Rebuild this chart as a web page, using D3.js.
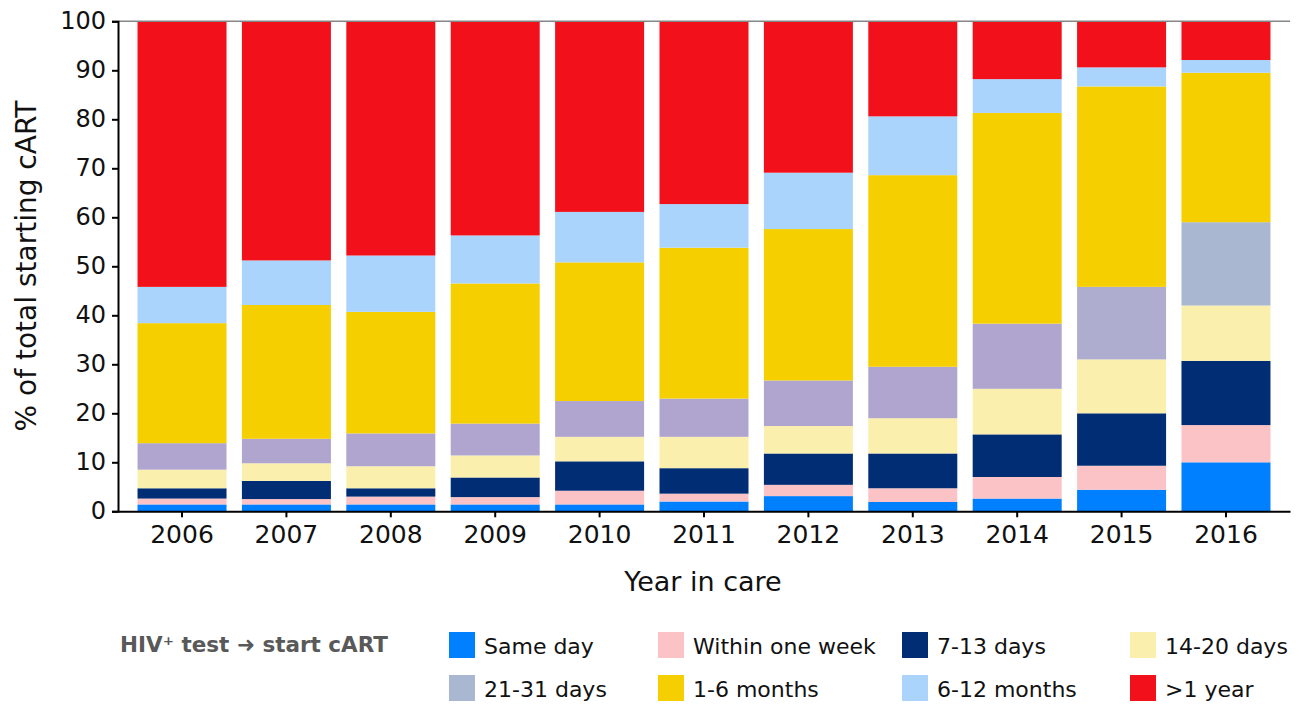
<!DOCTYPE html>
<html><head><meta charset="utf-8">
<script src="https://cdn.jsdelivr.net/npm/d3@7"></script>
<style>body{margin:0;background:#fff}svg{display:block}</style>
</head><body>
<svg id="chart" width="1299" height="704"></svg>
<script>
const years = ["2006","2007","2008","2009","2010","2011","2012","2013","2014","2015","2016"];
const seriesNames = ["Same day","Within one week","7-13 days","14-20 days","21-31 days","1-6 months","6-12 months",">1 year"];
const sameDay     = [1.4, 1.4, 1.4, 1.4, 1.4, 2.0, 3.1, 1.9, 2.6, 4.4, 10.0];
const withinWeek  = [1.2, 1.1, 1.6, 1.5, 2.8, 1.6, 2.3, 2.8, 4.4, 4.9, 7.6];
const days7to13   = [2.1, 3.7, 1.7, 4.0, 6.0, 5.2, 6.4, 7.1, 8.7, 10.7, 13.1];
const days14to20  = [3.8, 3.6, 4.5, 4.5, 5.0, 6.4, 5.6, 7.2, 9.3, 11.0, 11.3];
const days21to31  = [5.4, 5.0, 6.7, 6.5, 7.3, 7.8, 9.3, 10.5, 13.3, 14.8, 17.0];
const months1to6  = [24.5, 27.3, 24.8, 28.6, 28.3, 30.8, 30.9, 39.1, 43.0, 40.9, 30.5];
const months6to12 = [7.4, 9.1, 11.5, 9.8, 10.3, 8.9, 11.5, 12.0, 6.9, 3.9, 2.6];
const overYear    = [54.2, 48.8, 47.8, 43.7, 38.9, 37.3, 30.9, 19.4, 11.8, 9.4, 7.9];
const yTicks = [0,10,20,30,40,50,60,70,80,90,100];

const colors = ["#0080ff","#fbc3c6","#002d74","#fbefad","#a9b8d0","#f5cf00","#abd4fd","#f2111a"];
// the 21-31 days segments are drawn lavender in most years of the original
const days21Colors = ["#afa5cf","#afa5cf","#afa5cf","#afa5cf","#afa5cf","#afa5cf","#afa5cf","#afa5cf","#afa5cf","#aeadd0","#a9b8d0"];

const seriesValues = [sameDay, withinWeek, days7to13, days14to20, days21to31, months1to6, months6to12, overYear];
const rows = years.map((yr,i)=>{const r={year:yr}; seriesNames.forEach((s,k)=>r[s]=seriesValues[k][i]); return r;});
const stacked = d3.stack().keys(seriesNames)(rows);

const svg = d3.select("#chart");
const mLeft=118, mRight=1290, mTop=21.3, mBottom=511.3;
const font = "'DejaVu Sans', Verdana, sans-serif";

const x = d3.scaleBand().domain(years).range([mLeft,mRight]).paddingInner(0.1475).paddingOuter(0.187);
const y = d3.scaleLinear().domain([0,100]).range([mBottom,mTop]);

// bars
svg.append("g").selectAll("g").data(stacked).join("g")
  .each(function(layer, k){
    d3.select(this).selectAll("rect").data(layer).join("rect")
      .attr("x", d=>x(d.data.year))
      .attr("width", x.bandwidth())
      .attr("y", d=>y(d[1]))
      .attr("height", d=>y(d[0])-y(d[1]))
      .attr("fill", (d,i)=> k===4 ? days21Colors[i] : colors[k]);
  });

// top border line
svg.append("line").attr("x1",mLeft).attr("x2",mRight).attr("y1",y(100)).attr("y2",y(100))
  .attr("stroke","#858585").attr("stroke-width",1.5);

// y axis
const yAxis = svg.append("g").attr("transform",`translate(${mLeft},0)`)
  .call(d3.axisLeft(y).tickValues(yTicks).tickSize(6).tickPadding(6).tickFormat(d3.format("d")));
yAxis.select(".domain").attr("stroke","#000").attr("stroke-width",2);
yAxis.selectAll(".tick line").attr("stroke","#000").attr("stroke-width",2);
yAxis.selectAll("text").attr("font-family",font).attr("font-size",24).attr("fill","#111");

// x axis
const xAxis = svg.append("g").attr("transform",`translate(0,${mBottom})`)
  .call(d3.axisBottom(x).tickSize(6).tickSizeOuter(0).tickPadding(8));
xAxis.select(".domain").attr("stroke","#000").attr("stroke-width",2);
xAxis.selectAll(".tick line").attr("stroke","#000").attr("stroke-width",2);
xAxis.selectAll("text").attr("font-family",font).attr("font-size",25).attr("fill","#111");

// axis titles
svg.append("text").attr("x",703).attr("y",591).attr("text-anchor","middle")
  .attr("font-family",font).attr("font-size",27).attr("fill","#111").text("Year in care");
svg.append("text").attr("transform","translate(36,266) rotate(-90)").attr("text-anchor","middle")
  .attr("font-family",font).attr("font-size",28).attr("fill","#111").text("% of total starting cART");

// legend
const leg = svg.append("g");
leg.append("text").attr("x",120).attr("y",652).attr("font-family",font).attr("font-size",21.5)
  .attr("font-weight","bold").attr("fill","#595959").text("HIV⁺ test ➜ start cART");
const legCols=[449,658,902,1130], legRows=[645,688];
seriesNames.forEach((s,i)=>{
  const cx=legCols[i%4], cy=legRows[Math.floor(i/4)];
  leg.append("rect").attr("x",cx).attr("y",cy-13).attr("width",26).attr("height",26).attr("fill",colors[i]);
  leg.append("text").attr("x",cx+35).attr("y",cy+9).attr("font-family",font).attr("font-size",22)
    .attr("fill","#111").text(s);
});
</script>
</body></html>
